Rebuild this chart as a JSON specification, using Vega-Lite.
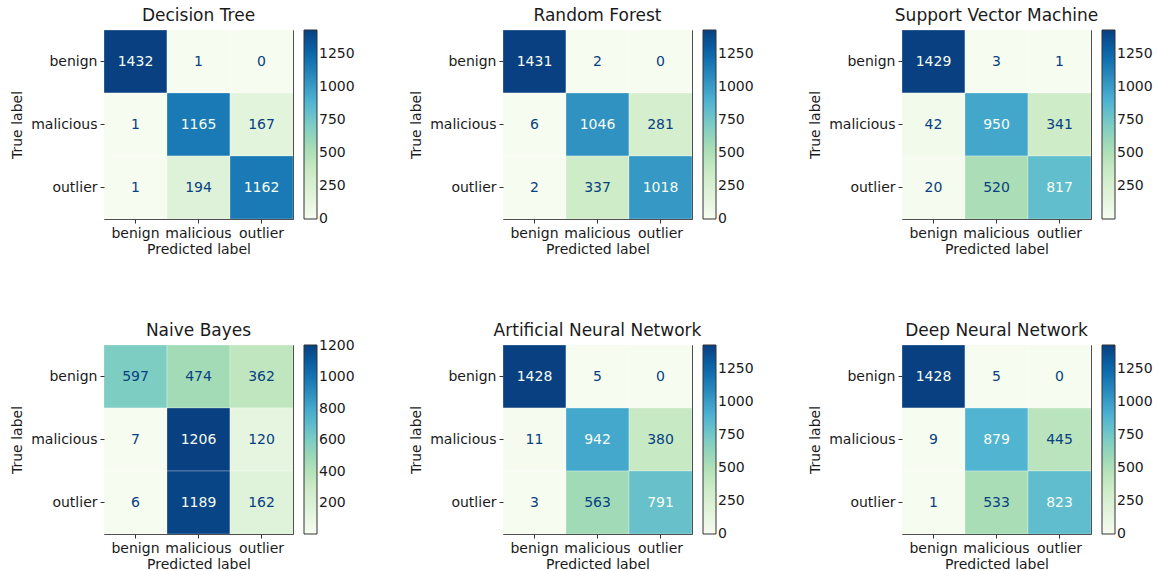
{
  "$schema": "https://vega.github.io/schema/vega-lite/v6.json",
  "padding": {"left": 10, "top": 6, "right": 5, "bottom": 5},
  "background": "white",
  "datasets": {
    "cm": [
      {"model": "Decision Tree", "actual": "benign", "pred": "benign", "count": 1432},
      {"model": "Decision Tree", "actual": "benign", "pred": "malicious", "count": 1},
      {"model": "Decision Tree", "actual": "benign", "pred": "outlier", "count": 0},
      {"model": "Decision Tree", "actual": "malicious", "pred": "benign", "count": 1},
      {"model": "Decision Tree", "actual": "malicious", "pred": "malicious", "count": 1165},
      {"model": "Decision Tree", "actual": "malicious", "pred": "outlier", "count": 167},
      {"model": "Decision Tree", "actual": "outlier", "pred": "benign", "count": 1},
      {"model": "Decision Tree", "actual": "outlier", "pred": "malicious", "count": 194},
      {"model": "Decision Tree", "actual": "outlier", "pred": "outlier", "count": 1162},

      {"model": "Random Forest", "actual": "benign", "pred": "benign", "count": 1431},
      {"model": "Random Forest", "actual": "benign", "pred": "malicious", "count": 2},
      {"model": "Random Forest", "actual": "benign", "pred": "outlier", "count": 0},
      {"model": "Random Forest", "actual": "malicious", "pred": "benign", "count": 6},
      {"model": "Random Forest", "actual": "malicious", "pred": "malicious", "count": 1046},
      {"model": "Random Forest", "actual": "malicious", "pred": "outlier", "count": 281},
      {"model": "Random Forest", "actual": "outlier", "pred": "benign", "count": 2},
      {"model": "Random Forest", "actual": "outlier", "pred": "malicious", "count": 337},
      {"model": "Random Forest", "actual": "outlier", "pred": "outlier", "count": 1018},

      {"model": "Support Vector Machine", "actual": "benign", "pred": "benign", "count": 1429},
      {"model": "Support Vector Machine", "actual": "benign", "pred": "malicious", "count": 3},
      {"model": "Support Vector Machine", "actual": "benign", "pred": "outlier", "count": 1},
      {"model": "Support Vector Machine", "actual": "malicious", "pred": "benign", "count": 42},
      {"model": "Support Vector Machine", "actual": "malicious", "pred": "malicious", "count": 950},
      {"model": "Support Vector Machine", "actual": "malicious", "pred": "outlier", "count": 341},
      {"model": "Support Vector Machine", "actual": "outlier", "pred": "benign", "count": 20},
      {"model": "Support Vector Machine", "actual": "outlier", "pred": "malicious", "count": 520},
      {"model": "Support Vector Machine", "actual": "outlier", "pred": "outlier", "count": 817},

      {"model": "Naive Bayes", "actual": "benign", "pred": "benign", "count": 597},
      {"model": "Naive Bayes", "actual": "benign", "pred": "malicious", "count": 474},
      {"model": "Naive Bayes", "actual": "benign", "pred": "outlier", "count": 362},
      {"model": "Naive Bayes", "actual": "malicious", "pred": "benign", "count": 7},
      {"model": "Naive Bayes", "actual": "malicious", "pred": "malicious", "count": 1206},
      {"model": "Naive Bayes", "actual": "malicious", "pred": "outlier", "count": 120},
      {"model": "Naive Bayes", "actual": "outlier", "pred": "benign", "count": 6},
      {"model": "Naive Bayes", "actual": "outlier", "pred": "malicious", "count": 1189},
      {"model": "Naive Bayes", "actual": "outlier", "pred": "outlier", "count": 162},

      {"model": "Artificial Neural Network", "actual": "benign", "pred": "benign", "count": 1428},
      {"model": "Artificial Neural Network", "actual": "benign", "pred": "malicious", "count": 5},
      {"model": "Artificial Neural Network", "actual": "benign", "pred": "outlier", "count": 0},
      {"model": "Artificial Neural Network", "actual": "malicious", "pred": "benign", "count": 11},
      {"model": "Artificial Neural Network", "actual": "malicious", "pred": "malicious", "count": 942},
      {"model": "Artificial Neural Network", "actual": "malicious", "pred": "outlier", "count": 380},
      {"model": "Artificial Neural Network", "actual": "outlier", "pred": "benign", "count": 3},
      {"model": "Artificial Neural Network", "actual": "outlier", "pred": "malicious", "count": 563},
      {"model": "Artificial Neural Network", "actual": "outlier", "pred": "outlier", "count": 791},

      {"model": "Deep Neural Network", "actual": "benign", "pred": "benign", "count": 1428},
      {"model": "Deep Neural Network", "actual": "benign", "pred": "malicious", "count": 5},
      {"model": "Deep Neural Network", "actual": "benign", "pred": "outlier", "count": 0},
      {"model": "Deep Neural Network", "actual": "malicious", "pred": "benign", "count": 9},
      {"model": "Deep Neural Network", "actual": "malicious", "pred": "malicious", "count": 879},
      {"model": "Deep Neural Network", "actual": "malicious", "pred": "outlier", "count": 445},
      {"model": "Deep Neural Network", "actual": "outlier", "pred": "benign", "count": 1},
      {"model": "Deep Neural Network", "actual": "outlier", "pred": "malicious", "count": 533},
      {"model": "Deep Neural Network", "actual": "outlier", "pred": "outlier", "count": 823}
    ]
  },
  "data": {"name": "cm"},
  "columns": 3,
  "bounds": "flush",
  "spacing": {"row": 126, "column": 210},
  "concat": [
    {
      "title": "Decision Tree",
      "width": 189, "height": 189,
      "transform": [{"filter": "datum.model === 'Decision Tree'"}],
      "encoding": {
        "x": {"field": "pred", "type": "nominal", "sort": ["benign", "malicious", "outlier"], "title": "Predicted label"},
        "y": {"field": "actual", "type": "nominal", "sort": ["benign", "malicious", "outlier"], "title": "True label"}
      },
      "layer": [
        {"mark": {"type": "rect", "stroke": "white", "strokeWidth": 0.7, "strokeOpacity": 0.4},
         "encoding": {"color": {"field": "count", "type": "quantitative",
           "scale": {"domain": [0, 179, 358, 537, 716, 895, 1074, 1253, 1432],
                     "range": ["#f7fcf0", "#e0f3db", "#ccebc5", "#a8ddb5", "#7bccc4", "#4eb3d3", "#2b8cbe", "#0868ac", "#084081"],
                     "interpolate": "rgb"},
           "legend": {"values": [0, 250, 500, 750, 1000, 1250], "format": "d",
                      "encode": {"labels": {"update": {"baseline": {"value": "middle"}}}}}}}},
        {"mark": {"type": "text", "fontSize": 14},
         "encoding": {"text": {"field": "count", "type": "quantitative"},
           "color": {"condition": {"test": "datum.count > 716", "value": "#f7fcf0"}, "value": "#084081"}}}
      ]
    },
    {
      "title": "Random Forest",
      "width": 189, "height": 189,
      "transform": [{"filter": "datum.model === 'Random Forest'"}],
      "encoding": {
        "x": {"field": "pred", "type": "nominal", "sort": ["benign", "malicious", "outlier"], "title": "Predicted label"},
        "y": {"field": "actual", "type": "nominal", "sort": ["benign", "malicious", "outlier"], "title": "True label"}
      },
      "layer": [
        {"mark": {"type": "rect", "stroke": "white", "strokeWidth": 0.7, "strokeOpacity": 0.4},
         "encoding": {"color": {"field": "count", "type": "quantitative",
           "scale": {"domain": [0, 178.875, 357.75, 536.625, 715.5, 894.375, 1073.25, 1252.125, 1431],
                     "range": ["#f7fcf0", "#e0f3db", "#ccebc5", "#a8ddb5", "#7bccc4", "#4eb3d3", "#2b8cbe", "#0868ac", "#084081"],
                     "interpolate": "rgb"},
           "legend": {"values": [0, 250, 500, 750, 1000, 1250], "format": "d",
                      "encode": {"labels": {"update": {"baseline": {"value": "middle"}}}}}}}},
        {"mark": {"type": "text", "fontSize": 14},
         "encoding": {"text": {"field": "count", "type": "quantitative"},
           "color": {"condition": {"test": "datum.count > 715.5", "value": "#f7fcf0"}, "value": "#084081"}}}
      ]
    },
    {
      "title": "Support Vector Machine",
      "width": 189, "height": 189,
      "transform": [{"filter": "datum.model === 'Support Vector Machine'"}],
      "encoding": {
        "x": {"field": "pred", "type": "nominal", "sort": ["benign", "malicious", "outlier"], "title": "Predicted label"},
        "y": {"field": "actual", "type": "nominal", "sort": ["benign", "malicious", "outlier"], "title": "True label"}
      },
      "layer": [
        {"mark": {"type": "rect", "stroke": "white", "strokeWidth": 0.7, "strokeOpacity": 0.4},
         "encoding": {"color": {"field": "count", "type": "quantitative",
           "scale": {"domain": [1, 179.5, 358, 536.5, 715, 893.5, 1072, 1250.5, 1429],
                     "range": ["#f7fcf0", "#e0f3db", "#ccebc5", "#a8ddb5", "#7bccc4", "#4eb3d3", "#2b8cbe", "#0868ac", "#084081"],
                     "interpolate": "rgb"},
           "legend": {"values": [250, 500, 750, 1000, 1250], "format": "d",
                      "encode": {"labels": {"update": {"baseline": {"value": "middle"}}}}}}}},
        {"mark": {"type": "text", "fontSize": 14},
         "encoding": {"text": {"field": "count", "type": "quantitative"},
           "color": {"condition": {"test": "datum.count > 715", "value": "#f7fcf0"}, "value": "#084081"}}}
      ]
    },
    {
      "title": "Naive Bayes",
      "width": 189, "height": 189,
      "transform": [{"filter": "datum.model === 'Naive Bayes'"}],
      "encoding": {
        "x": {"field": "pred", "type": "nominal", "sort": ["benign", "malicious", "outlier"], "title": "Predicted label"},
        "y": {"field": "actual", "type": "nominal", "sort": ["benign", "malicious", "outlier"], "title": "True label"}
      },
      "layer": [
        {"mark": {"type": "rect", "stroke": "white", "strokeWidth": 0.7, "strokeOpacity": 0.4},
         "encoding": {"color": {"field": "count", "type": "quantitative",
           "scale": {"domain": [6, 156, 306, 456, 606, 756, 906, 1056, 1206],
                     "range": ["#f7fcf0", "#e0f3db", "#ccebc5", "#a8ddb5", "#7bccc4", "#4eb3d3", "#2b8cbe", "#0868ac", "#084081"],
                     "interpolate": "rgb"},
           "legend": {"values": [200, 400, 600, 800, 1000, 1200], "format": "d",
                      "encode": {"labels": {"update": {"baseline": {"value": "middle"}}}}}}}},
        {"mark": {"type": "text", "fontSize": 14},
         "encoding": {"text": {"field": "count", "type": "quantitative"},
           "color": {"condition": {"test": "datum.count > 606", "value": "#f7fcf0"}, "value": "#084081"}}}
      ]
    },
    {
      "title": "Artificial Neural Network",
      "width": 189, "height": 189,
      "transform": [{"filter": "datum.model === 'Artificial Neural Network'"}],
      "encoding": {
        "x": {"field": "pred", "type": "nominal", "sort": ["benign", "malicious", "outlier"], "title": "Predicted label"},
        "y": {"field": "actual", "type": "nominal", "sort": ["benign", "malicious", "outlier"], "title": "True label"}
      },
      "layer": [
        {"mark": {"type": "rect", "stroke": "white", "strokeWidth": 0.7, "strokeOpacity": 0.4},
         "encoding": {"color": {"field": "count", "type": "quantitative",
           "scale": {"domain": [0, 178.5, 357, 535.5, 714, 892.5, 1071, 1249.5, 1428],
                     "range": ["#f7fcf0", "#e0f3db", "#ccebc5", "#a8ddb5", "#7bccc4", "#4eb3d3", "#2b8cbe", "#0868ac", "#084081"],
                     "interpolate": "rgb"},
           "legend": {"values": [0, 250, 500, 750, 1000, 1250], "format": "d",
                      "encode": {"labels": {"update": {"baseline": {"value": "middle"}}}}}}}},
        {"mark": {"type": "text", "fontSize": 14},
         "encoding": {"text": {"field": "count", "type": "quantitative"},
           "color": {"condition": {"test": "datum.count > 714", "value": "#f7fcf0"}, "value": "#084081"}}}
      ]
    },
    {
      "title": "Deep Neural Network",
      "width": 189, "height": 189,
      "transform": [{"filter": "datum.model === 'Deep Neural Network'"}],
      "encoding": {
        "x": {"field": "pred", "type": "nominal", "sort": ["benign", "malicious", "outlier"], "title": "Predicted label"},
        "y": {"field": "actual", "type": "nominal", "sort": ["benign", "malicious", "outlier"], "title": "True label"}
      },
      "layer": [
        {"mark": {"type": "rect", "stroke": "white", "strokeWidth": 0.7, "strokeOpacity": 0.4},
         "encoding": {"color": {"field": "count", "type": "quantitative",
           "scale": {"domain": [0, 178.5, 357, 535.5, 714, 892.5, 1071, 1249.5, 1428],
                     "range": ["#f7fcf0", "#e0f3db", "#ccebc5", "#a8ddb5", "#7bccc4", "#4eb3d3", "#2b8cbe", "#0868ac", "#084081"],
                     "interpolate": "rgb"},
           "legend": {"values": [0, 250, 500, 750, 1000, 1250], "format": "d",
                      "encode": {"labels": {"update": {"baseline": {"value": "middle"}}}}}}}},
        {"mark": {"type": "text", "fontSize": 14},
         "encoding": {"text": {"field": "count", "type": "quantitative"},
           "color": {"condition": {"test": "datum.count > 714", "value": "#f7fcf0"}, "value": "#084081"}}}
      ]
    }
  ],
  "resolve": {"scale": {"color": "independent"}, "legend": {"color": "independent"}},
  "config": {
    "font": "DejaVu Sans",
    "view": {"stroke": "#333333", "strokeWidth": 1},
    "title": {"fontSize": 17, "fontWeight": "normal", "color": "#1a1a1a", "offset": 5},
    "axis": {
      "labelFontSize": 14, "titleFontSize": 14, "titleFontWeight": "normal",
      "labelColor": "#1a1a1a", "titleColor": "#1a1a1a",
      "labelAngle": 0, "domain": false, "grid": false,
      "ticks": true, "tickColor": "#333333", "tickSize": 4, "labelPadding": 3
    },
    "axisX": {"titlePadding": 2},
    "axisY": {"titlePadding": 6},
    "legend": {
      "title": null, "orient": "right", "offset": 11,
      "gradientLength": 189, "gradientThickness": 13,
      "gradientStrokeColor": "#333333", "gradientStrokeWidth": 1,
      "labelFontSize": 14, "labelColor": "#1a1a1a", "labelOffset": 5,
      "labelBaseline": "middle", "labelOverlap": false, "padding": 0
    }
  }
}
